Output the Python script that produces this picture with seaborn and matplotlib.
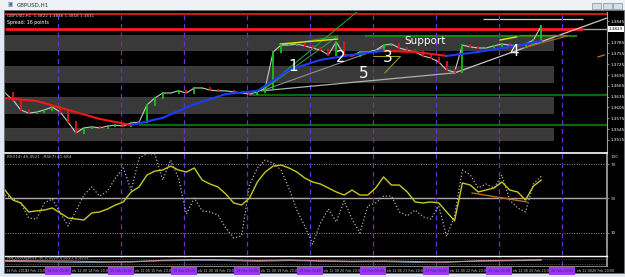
import numpy as np
import pandas as pd
import matplotlib
matplotlib.use("Agg")
import matplotlib.pyplot as plt
import matplotlib.transforms as mtransforms
from matplotlib.patches import Rectangle
import seaborn as sns

sns.set_theme(style="dark")
plt.rcParams['font.family'] = ['DejaVu Sans']

# ---------------- data ----------------
STEP_H = 3
close = [1.3645, 1.3626, 1.3598, 1.3589, 1.3592, 1.3598, 1.3606, 1.3592, 1.3564, 1.3534,
         1.3548, 1.3551, 1.3548, 1.3553, 1.3556, 1.3553, 1.3562, 1.3564, 1.3612, 1.3631,
         1.3645, 1.3645, 1.3651, 1.3645, 1.3659, 1.3659, 1.3653, 1.3651, 1.3651, 1.3648,
         1.3645, 1.3642, 1.3648, 1.3659, 1.3759, 1.3778, 1.3778, 1.3781, 1.3776, 1.3770,
         1.3764, 1.3751, 1.3787, 1.3751, 1.3748, 1.3759, 1.3759, 1.3764, 1.3778, 1.3781,
         1.3770, 1.3764, 1.3759, 1.3748, 1.3742, 1.3731, 1.3709, 1.3703, 1.3778, 1.3773,
         1.3770, 1.3770, 1.3776, 1.3781, 1.3778, 1.3776, 1.3781, 1.3792, 1.3831]

ma_hours = [0, 12, 24, 36, 48, 60, 72, 84, 96, 108, 120, 132, 144, 156, 168, 180, 192, 204]
ma_vals = [1.3631, 1.3623, 1.3598, 1.3573, 1.3556, 1.3576, 1.3614, 1.3642, 1.3651, 1.3709,
           1.3737, 1.3751, 1.3762, 1.3759, 1.3748, 1.3759, 1.3773, 1.3789]

rsi = [54.9, 49.1, 47.4, 42.2, 42.8, 43.3, 44.5, 41.6, 38.7, 38.1, 37.5, 41.6, 42.2, 43.9,
       46.2, 48.0, 53.8, 56.7, 63.6, 65.9, 66.5, 68.8, 66.5, 65.4, 67.7, 60.7, 58.4, 56.7,
       52.6, 47.4, 46.2, 50.3, 59.6, 65.4, 68.8, 69.4, 67.7, 65.4, 61.9, 59.6, 58.4, 56.1,
       53.8, 52.0, 54.9, 52.0, 52.0, 56.1, 62.5, 57.8, 57.8, 53.8, 48.0, 47.4, 48.0, 47.4,
       42.2, 37.0, 59.0, 57.8, 53.8, 54.9, 56.1, 59.6, 54.9, 53.8, 49.1, 57.2, 60.7]

stoch = [52.0, 49.7, 47.4, 38.7, 38.1, 47.4, 49.7, 41.6, 34.1, 42.8, 52.0, 56.7, 51.4, 54.3,
         61.9, 67.7, 54.9, 73.5, 76.0, 75.8, 60.7, 72.3, 61.9, 41.0, 50.3, 42.8, 42.2, 40.4,
         32.9, 27.1, 28.3, 57.8, 67.7, 72.3, 70.6, 66.5, 56.1, 43.3, 34.1, 23.6, 35.8, 43.9,
         36.4, 48.6, 38.1, 30.0, 45.7, 47.4, 51.4, 51.4, 42.2, 39.9, 43.3, 39.3, 38.1, 45.7,
         28.0, 40.0, 66.5, 63.6, 56.1, 58.4, 56.1, 63.6, 49.1, 44.5, 42.2, 58.4, 63.0]

osc_hours = ma_hours
osc_a = [0.2, 0.1, 0.0, -0.3, -0.4, 0.3, 0.6, 0.5, 0.2, 0.4, 0.1, -0.1, 0.0, -0.2, -0.5, 0.1, 0.3, 0.5]
osc_b = [-0.2, -0.3, -0.5, -0.6, -0.2, 0.1, 0.3, 0.2, -0.1, 0.2, -0.1, -0.3, -0.2, -0.6, -0.3, -0.1, 0.1, 0.3]

sep_hours = [20, 44, 68, 92, 116, 140, 164, 188, 212]
dates = ['13 Feb', '14 Feb', '15 Feb', '18 Feb', '19 Feb', '20 Feb', '21 Feb', '22 Feb', '25 Feb', '26 Feb']

price_ticks = [1.3845, 1.3785, 1.3755, 1.3725, 1.3695, 1.3665, 1.3635, 1.3605, 1.3575, 1.3545, 1.3515]
current_price = 1.3823

bands = [(1.3764, 1.3806), (1.3676, 1.3720), (1.3589, 1.3634), (1.3514, 1.3548)]
band_end_h = 208.4

# horizontal levels: (price, h_start, h_end, color, lw)
levels = [(1.3864, 0, 229, '#ff1a1a', 1.2),
          (1.3823, 0, 219.8, '#ff1a1a', 2.0),
          (1.3823, 219.8, 229, '#a0a0a0', 1.0),
          (1.3851, 181.7, 219.8, '#d0d0d0', 0.9),
          (1.3803, 137.0, 217.5, '#109010', 1.3),
          (1.3639, 93.0, 229, '#0a6a0a', 1.6),
          (1.3556, 51.0, 229, '#0a6a0a', 1.6)]

# trend lines: (h0, p0, h1, p1, color, lw)
trend_lines = [(97.7, 1.3651, 171.1, 1.3701, '#b0b0b0', 0.9),
               (171.1, 1.3701, 228.9, 1.3853, '#c8c8c8', 0.9),
               (97.7, 1.3651, 144.5, 1.3773, '#909090', 0.8),
               (97.7, 1.3651, 133.8, 1.3870, '#2a9a2a', 0.8),
               (97.7, 1.3651, 126.6, 1.3803, '#2a9a2a', 0.8),
               (105.3, 1.3778, 126.6, 1.3803, '#2a9a2a', 0.8),
               (104.6, 1.3781, 126.6, 1.3795, '#e6e600', 1.0),
               (144.5, 1.3701, 150.2, 1.3745, '#9a9a20', 0.8),
               (139.9, 1.3748, 150.2, 1.3748, '#9a9a20', 0.8),
               (197.0, 1.3770, 213.7, 1.3803, '#b06010', 0.9),
               (195.8, 1.3806, 213.7, 1.3806, '#b06010', 0.9),
               (225.5, 1.3745, 228.1, 1.3751, '#c07020', 0.9),
               (188.2, 1.3792, 194.7, 1.3801, '#e6e600', 1.0)]

wave_labels = [('1', 109.5, 1.3720), ('2', 127.8, 1.3745), ('3', 145.6, 1.3745),
               ('4', 193.5, 1.3759), ('5', 136.5, 1.3698)]

rsi_trend = (177.6, 53.2, 198.5, 48.0)

# ---------------- figure ----------------
W, H = 625, 277
fig = plt.figure(figsize=(W / 100, H / 100), dpi=100)
fig.patch.set_facecolor('#dfe8f4')

def fx(px):
    return px / W

def fy(py):
    return 1 - py / H

# window chrome (drawn beneath axes)
fig.patches.append(Rectangle((0, fy(10)), 1, 10 / H, transform=fig.transFigure,
                             facecolor='#eef1f5', edgecolor='none', zorder=-20))
fig.patches.append(Rectangle((fx(4), fy(273)), 620 / W, 263 / H, transform=fig.transFigure,
                             facecolor='black', edgecolor='#707070', lw=0.6, zorder=-20))
for bx in [592, 603, 613]:
    fig.patches.append(Rectangle((fx(bx), fy(9)), 9 / W, 6 / H, transform=fig.transFigure,
                                 facecolor='#d8dde4', edgecolor='#8090a0', lw=0.5, zorder=-19))
fig.text(fx(8), fy(5), '▣', fontsize=4, color='#4a6a9a', va='center')
fig.text(fx(17), fy(5), 'GBPUSD,H1', fontsize=4, color='#303030', va='center')

hours = np.arange(len(close)) * STEP_H
df = pd.DataFrame({'h': hours, 'close': close, 'rsi': rsi, 'stoch': stoch})
opens = [close[0]] + close[:-1]

# ---------------- main price panel ----------------
axp = fig.add_axes([fx(5), fy(151), 602 / W, 139 / H])
axp.set_facecolor('black')
axp.set_xlim(0, 229)
axp.set_ylim(1.34839, 1.38700)

for lo, hi in bands:
    axp.add_patch(Rectangle((0, lo), band_end_h, hi - lo, facecolor='#393939',
                            edgecolor='#4a4a4a', lw=0.5, zorder=1))
for price, h0, h1, col, lw in levels:
    axp.hlines(price, h0, h1, colors=col, lw=lw, zorder=2)
for s in sep_hours:
    axp.axvline(s, color='#6a2fc8', lw=0.9, ls=(0, (4, 3)), zorder=2)

for h0, p0, h1, p1, col, lw in trend_lines:
    axp.plot([h0, h1], [p0, p1], color=col, lw=lw, zorder=3)

sns.lineplot(data=df, x='h', y='close', ax=axp, color='#c8c8c8', lw=0.8, legend=False, zorder=4)
cols = ['#18c018' if c >= o else '#e01818' for o, c in zip(opens, close)]
axp.vlines(hours, np.minimum(opens, close) - 0.0002, np.maximum(opens, close) + 0.0002,
           colors=cols, lw=1.3, zorder=5)

for i in range(len(ma_vals) - 1):
    col = '#1a3cff' if ma_vals[i + 1] > ma_vals[i] else '#ff1414'
    axp.plot(ma_hours[i:i + 2], ma_vals[i:i + 2], color=col, lw=1.5, zorder=6)

for t, h, p in wave_labels:
    axp.text(h, p, t, color='white', fontsize=11, ha='center', va='center', zorder=7)
axp.text(152.1, 1.3789, 'Support', color='white', fontsize=7.5, ha='left', va='center', zorder=7)

axp.text(0.003, 0.985, 'GBPUSD,H1  1.3822 1.3836 1.3818 1.3831', transform=axp.transAxes,
         fontsize=3.0, color='#d0d0d0', va='top', zorder=8)
axp.text(0.003, 0.945, 'Spread: 16 points', transform=axp.transAxes,
         fontsize=3.4, color='white', va='top', zorder=8)

axp.yaxis.tick_right()
axp.set_yticks(price_ticks)
axp.set_yticklabels([f'{v:.4f}' for v in price_ticks])
axp.tick_params(axis='y', colors='#c0c0c0', labelsize=3.0, length=1.5, width=0.5, pad=1.0,
                labelcolor='white')
axp.set_xticks([])
axp.set_xlabel('')
axp.set_ylabel('')
for k, sp in axp.spines.items():
    sp.set_visible(k == 'right')
axp.spines['right'].set_color('#a0a0a0')
axp.spines['right'].set_linewidth(0.8)
axp.text(1.003, (current_price - 1.34839) / (1.38700 - 1.34839), f'{current_price:.4f}',
         transform=axp.transAxes, fontsize=3.0, color='black', va='center', ha='left',
         bbox=dict(boxstyle='square,pad=0.15', facecolor='white', edgecolor='none'), zorder=9)
axp.grid(False)

# ---------------- RSI panel ----------------
axr = fig.add_axes([fx(5), fy(255), 602 / W, 102 / H])
axr.set_facecolor('black')
axr.set_xlim(0, 229)
axr.set_ylim(17.2, 76.4)
axr.axhline(70, color='#909090', lw=0.7, ls=(0, (1, 1.5)))
axr.axhline(50, color='#a8a8a8', lw=1.0)
axr.axhline(30, color='#909090', lw=0.7, ls=(0, (1, 1.5)))
for s in sep_hours:
    axr.axvline(s, color='#6a2fc8', lw=0.9, ls=(0, (4, 3)), zorder=2)
sns.lineplot(data=df, x='h', y='stoch', ax=axr, color='#b0b0b0', lw=0.9, ls=':', legend=False, zorder=3)
sns.lineplot(data=df, x='h', y='rsi', ax=axr, color='#c8c81e', lw=1.0, legend=False, zorder=4)
axr.plot([rsi_trend[0], rsi_trend[2]], [rsi_trend[1], rsi_trend[3]], color='#c06818', lw=1.0, zorder=5)
axr.text(0.003, 0.985, 'RSI(14) 45.4521  .RSI(7) 41.684', transform=axr.transAxes,
         fontsize=3.0, color='#c0c0c0', va='top')
axr.yaxis.tick_right()
axr.set_yticks([70, 50, 30])
axr.set_yticklabels(['70', '50', '30'])
axr.tick_params(axis='y', colors='#a0a0a0', labelsize=3.0, length=1.5, width=0.5, pad=1.0,
                labelcolor='#d0d0d0')
axr.set_xticks([])
axr.set_xlabel('')
axr.set_ylabel('')
for k, sp in axr.spines.items():
    sp.set_visible(k in ('right', 'top'))
axr.spines['right'].set_color('#a0a0a0')
axr.spines['top'].set_color('white')
axr.spines['top'].set_linewidth(1.2)
axr.text(1.006, 0.985, '100', transform=axr.transAxes, fontsize=3.0, color='#d0d0d0', va='top')
axr.grid(False)

# ---------------- bottom oscillator panel ----------------
axb = fig.add_axes([fx(5), fy(266), 602 / W, 10 / H])
axb.set_facecolor('black')
axb.set_xlim(0, 229)
axb.set_ylim(-2, 2)
axb.axhline(0.9, color='#808080', lw=0.5, ls=(0, (1, 1.5)))
axb.axhline(-1.1, color='#808080', lw=0.5, ls=(0, (1, 1.5)))
for s in sep_hours:
    axb.axvline(s, color='#6a2fc8', lw=0.9, ls=(0, (4, 3)), zorder=2)
sns.lineplot(x=osc_hours, y=osc_b, ax=axb, color='#7890a8', lw=0.8, legend=False)
sns.lineplot(x=osc_hours, y=osc_a, ax=axb, color='#c89090', lw=0.8, legend=False)
axb.text(0.003, 0.95, 'MA_Divergence (x) 0.0026 0.0021 0.0009', transform=axb.transAxes,
         fontsize=2.8, color='#c0c0c0', va='top')
axb.set_xticks([])
axb.set_yticks([])
axb.set_xlabel('')
axb.set_ylabel('')
for k, sp in axb.spines.items():
    sp.set_visible(k in ('right', 'top', 'bottom'))
axb.spines['right'].set_color('#a0a0a0')
axb.spines['bottom'].set_color('#a0a0a0')
axb.spines['bottom'].set_linewidth(0.6)
axb.spines['top'].set_color('white')
axb.spines['top'].set_linewidth(1.0)
axb.grid(False)

# time labels
trans = mtransforms.blended_transform_factory(axb.transData, axb.transAxes)
lab_kw = dict(transform=trans, fontsize=2.4, color='#c8c8c8', va='center', ha='left', clip_on=False)
axb.text(0.2, -0.45, '13 Feb 2013', **lab_kw)
axb.text(7.6, -0.45, '13 Feb 20:00', **lab_kw)
for i, s in enumerate(sep_hours):
    axb.text(s, -0.45, f'{dates[i + 1]} 04:00', transform=trans, fontsize=2.4,
             color='#4a1890', va='center', ha='center', clip_on=False,
             bbox=dict(boxstyle='square,pad=0.6', facecolor='#9a35f0', edgecolor='none'),
             zorder=10)
    if s + 6 < 226:
        axb.text(s + 5.4, -0.45, 'eb 12:00', **lab_kw)
    if s + 11 < 226:
        axb.text(s + 11.4, -0.45, f'{dates[i + 1]} 20:00', **lab_kw)

fig.savefig('out.png', dpi=100, facecolor=fig.get_facecolor())
